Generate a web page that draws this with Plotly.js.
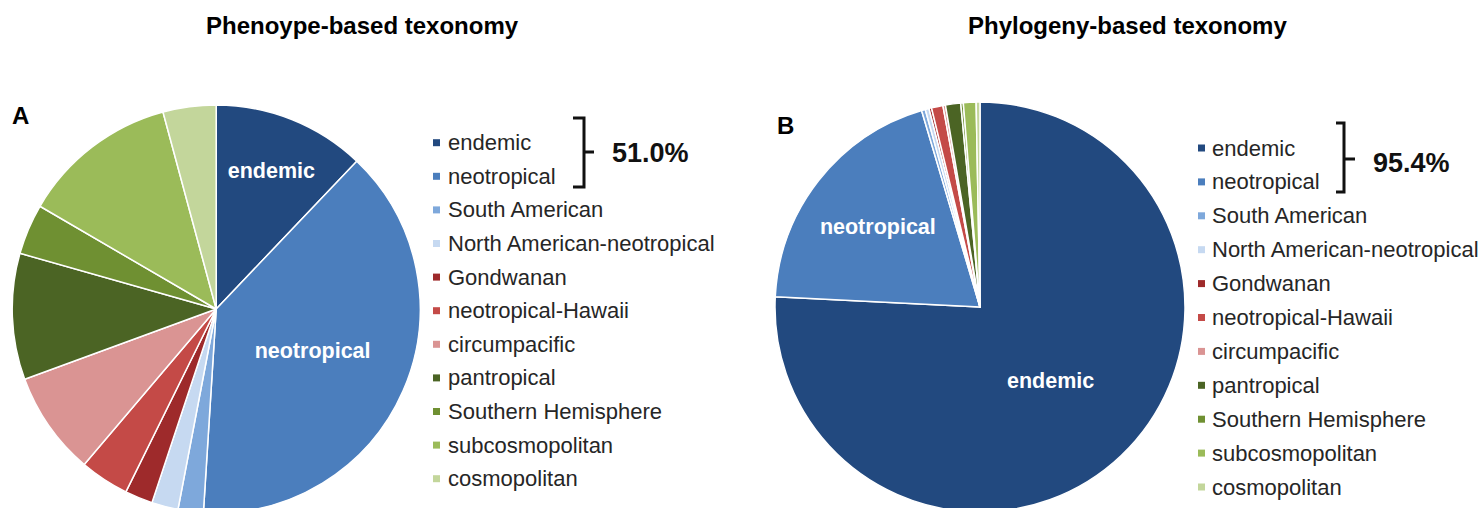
<!DOCTYPE html>
<html>
<head>
<meta charset="utf-8">
<script src="https://cdn.plot.ly/plotly-3.0.1.min.js"></script>
<style>
html,body{margin:0;padding:0;background:#fff;overflow:hidden;}
#chart{width:1483px;height:520px;}
</style>
</head>
<body>
<div id="chart"></div>
<script>
// ---- data ----
const categories = ["endemic","neotropical","South American","North American-neotropical","Gondwanan","neotropical-Hawaii","circumpacific","pantropical","Southern Hemisphere","subcosmopolitan","cosmopolitan"];
const phenotypeValues = [12.1, 38.9, 2.0, 2.1, 2.2, 3.9, 8.2, 10.0, 4.0, 12.4, 4.2];
const phylogenyValues = [75.8, 19.6, 0.3, 0.3, 0.2, 0.9, 0.2, 1.2, 0.2, 1.0, 0.3];
const sliceColors = ["#22497F","#4B7EBD","#7EA8DB","#C6D9F1","#9E2A2B","#C44A47","#DA9493","#4B6424","#6F9032","#9BBB59","#C3D69B"];
const sliceText = ["endemic","neotropical","","","","","","","","",""];
const titles = ["Phenoype-based texonomy","Phylogeny-based texonomy"];
const panelLetters = ["A","B"];
const bracketTotals = ["51.0%","95.4%"];

// ---- layout helpers ----
const W = 1483, H = 520;
const px = x => x / W;
const py = y => (H - y) / H;
function domainFor(cx, cy, r){
  return {x:[px(cx - r), px(cx + r)], y:[py(cy + r), py(cy - r)]};
}

const pieCommon = {
  type:"pie", labels:categories, sort:false, direction:"clockwise", rotation:0,
  marker:{colors:sliceColors, line:{color:"#ffffff", width:1.5}},
  textinfo:"text", textposition:"inside", insidetextorientation:"horizontal",
  insidetextfont:{family:"Liberation Sans, Arial, sans-serif", size:21.5, color:"#ffffff", weight:"bold"},
  hoverinfo:"label+percent", showlegend:false
};

const traces = [
  Object.assign({}, pieCommon, {values:phenotypeValues, text:sliceText, domain:domainFor(216.2, 309, 204)}),
  Object.assign({}, pieCommon, {values:phylogenyValues, text:sliceText, domain:domainFor(980, 307, 205)})
];

const annotations = [];
const shapes = [];
const textFont = "Liberation Sans, Arial, sans-serif";

// titles
const titleX = [362, 1127];
titles.forEach((t,i)=>{
  annotations.push({text:t, x:px(titleX[i]), y:py(25), xref:"paper", yref:"paper",
    xanchor:"center", yanchor:"middle", showarrow:false,
    font:{family:textFont, size:24, color:"#000", weight:"bold"}});
});
// panel letters
const letterPos = [[20,116],[785,125]];
panelLetters.forEach((t,i)=>{
  annotations.push({text:t, x:px(letterPos[i][0]), y:py(letterPos[i][1]), xref:"paper", yref:"paper",
    xanchor:"center", yanchor:"middle", showarrow:false,
    font:{family:textFont, size:24, color:"#000", weight:"bold"}});
});

// legends
const legends = [
  {mx:436.5, tx:446, y0:142.7, step:33.6},
  {mx:1201.5, tx:1210, y0:148, step:33.9}
];
legends.forEach(L=>{
  categories.forEach((c,k)=>{
    const yc = L.y0 + k*L.step;
    shapes.push({type:"rect", xref:"paper", yref:"paper",
      x0:px(L.mx-3.5), x1:px(L.mx+3.5), y0:py(yc+3.5), y1:py(yc-3.5),
      fillcolor:sliceColors[k], line:{width:0}});
    annotations.push({text:c, x:px(L.tx), y:py(yc), xref:"paper", yref:"paper",
      xanchor:"left", yanchor:"middle", showarrow:false,
      font:{family:textFont, size:22, color:"#262626"}});
  });
});

// brackets + totals
const brackets = [
  {x0:573, xv:584, xt:594, top:118, bot:187, mid:152, tx:650, ty:153},
  {x0:1336, xv:1344, xt:1355, top:123, bot:192, mid:159, tx:1411, ty:163}
];
brackets.forEach((b,i)=>{
  const path = `M ${px(b.x0)} ${py(b.top)} L ${px(b.xv)} ${py(b.top)} L ${px(b.xv)} ${py(b.bot)} L ${px(b.x0)} ${py(b.bot)} M ${px(b.xv)} ${py(b.mid)} L ${px(b.xt)} ${py(b.mid)}`;
  shapes.push({type:"path", xref:"paper", yref:"paper", path:path, line:{color:"#111", width:3}});
  annotations.push({text:bracketTotals[i], x:px(b.tx), y:py(b.ty), xref:"paper", yref:"paper",
    xanchor:"center", yanchor:"middle", showarrow:false,
    font:{family:textFont, size:27, color:"#111", weight:"bold"}});
});

const layout = {
  width:W, height:H, margin:{l:0,r:0,t:0,b:0},
  paper_bgcolor:"#ffffff", plot_bgcolor:"#ffffff",
  showlegend:false, annotations:annotations, shapes:shapes
};

Plotly.newPlot("chart", traces, layout, {displayModeBar:false, staticPlot:true});
</script>
</body>
</html>
